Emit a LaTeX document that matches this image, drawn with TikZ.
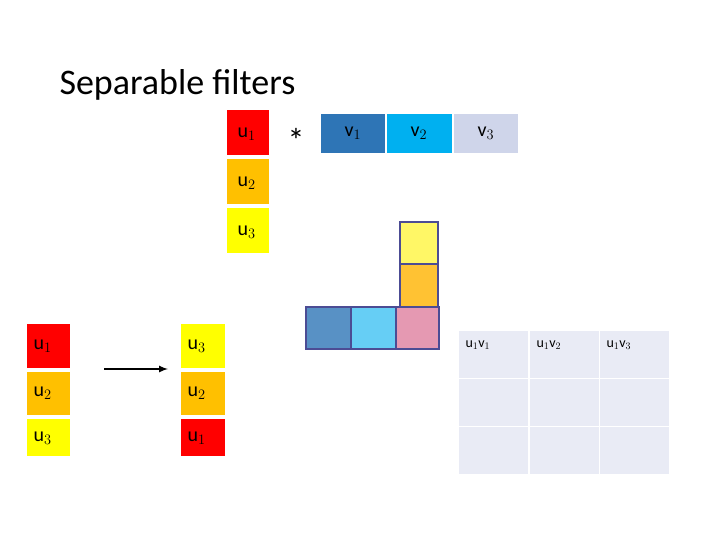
\documentclass[tikz,border=0pt]{standalone}
\usepackage{fontspec}
\setmainfont{Carlito}
\begin{document}
\begin{tikzpicture}[x=1pt,y=-1pt,
  cell/.style={anchor=north west,inner sep=0pt,outer sep=0pt},
  lab/.style={font=\fontsize{20}{20}\selectfont},
  sq/.style={draw=blue!40!black!70,line width=1.8pt}]
\useasboundingbox (0,0) rectangle (720,540);
\definecolor{ured}{HTML}{FF0000}\definecolor{uora}{HTML}{FFC000}\definecolor{uyel}{HTML}{FFFF00}
\definecolor{vone}{HTML}{2E75B6}\definecolor{vtwo}{HTML}{00B0F0}\definecolor{vthr}{HTML}{CFD5EA}
\definecolor{gridc}{HTML}{E9EBF5}
\node[anchor=base west,font=\fontsize{36}{36}\selectfont\addfontfeature{}] (title) at (56,95) {Separable filters};
% u column
\fill[ured] (227,110) rectangle (269,155); \node[lab,anchor=west] (ua) at (234,134) {u$_1$};
\fill[uora] (227,159) rectangle (269,204); \node[lab,anchor=west] (ub) at (234,183) {u$_2$};
\fill[uyel] (227,208) rectangle (269,253); \node[lab,anchor=west] (uc) at (234,232) {u$_3$};
\node[font=\fontsize{34}{34}\selectfont] (star) at (296,140) {*};
% v row
\fill[vone] (321,114) rectangle (385,153); \node[lab] (va) at (353,133) {v$_1$};
\fill[vtwo] (387,114) rectangle (452,153); \node[lab] (vb) at (419,133) {v$_2$};
\fill[vthr] (454,114) rectangle (518,153); \node[lab] (vc) at (486,133) {v$_3$};
% squares
\filldraw[sq,fill=yellow!60] (400,222) rectangle (438,264);
\filldraw[sq,fill=orange!60!yellow!80] (400,264) rectangle (438,307);
\filldraw[sq,fill=vone!80!white] (306,307) rectangle (351,349);
\filldraw[sq,fill=cyan!60!white] (351,307) rectangle (396,349);
\filldraw[sq,fill=purple!40!white] (396,307) rectangle (439,349);
% grid
\foreach \x/\c in {459/1,530/2,600/3}{\foreach \y in {331,379,427}{\fill[gridc] (\x,\y) rectangle ++(69,47);}}
\node[anchor=north west,font=\fontsize{14}{14}\selectfont] (g1) at (462,337) {u$_1$v$_1$};
\node[anchor=north west,font=\fontsize{14}{14}\selectfont] (g2) at (533,337) {u$_1$v$_2$};
\node[anchor=north west,font=\fontsize{14}{14}\selectfont] (g3) at (603,337) {u$_1$v$_3$};
% left columns
\fill[ured] (27,324) rectangle (70,368); \node[lab,anchor=west] (la) at (30,346) {u$_1$};
\fill[uora] (27,372) rectangle (70,415); \node[lab,anchor=west] (lb) at (30,393) {u$_2$};
\fill[uyel] (27,419) rectangle (70,456); \node[lab,anchor=west] (lc) at (30,438) {u$_3$};
\fill[uyel] (181,324) rectangle (225,368); \node[lab,anchor=west] (ra) at (184,346) {u$_3$};
\fill[uora] (181,372) rectangle (225,415); \node[lab,anchor=west] (rb) at (184,393) {u$_2$};
\fill[ured] (181,419) rectangle (225,456); \node[lab,anchor=west] (rc) at (184,438) {u$_1$};
\coordinate (a1) at (104,369); \coordinate (a2) at (168,369);
\draw[line width=2pt,-latex] (a1) -- (a2);
\end{tikzpicture}
\end{document}
